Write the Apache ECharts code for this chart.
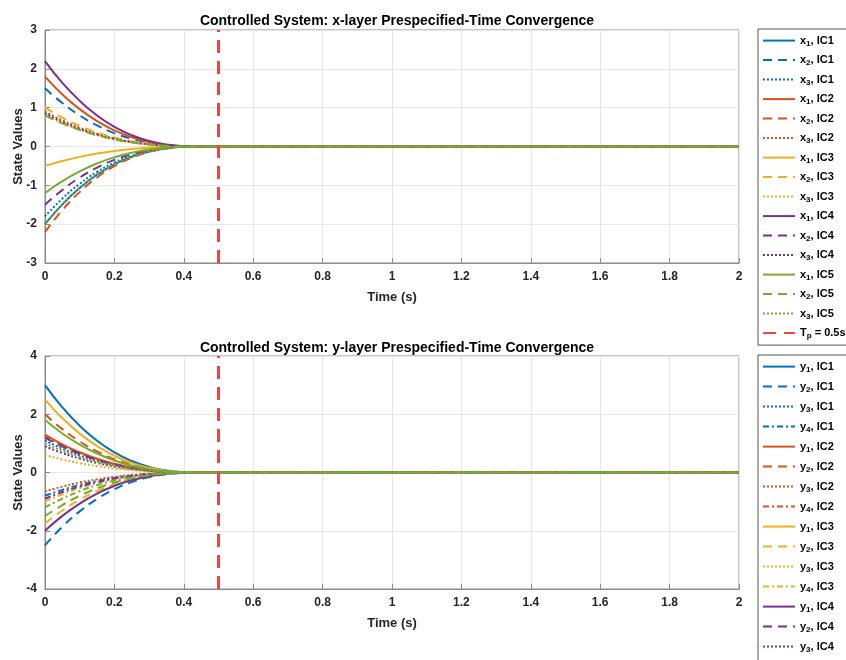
<!DOCTYPE html>
<html>
<head>
<meta charset="utf-8">
<script src="https://cdn.jsdelivr.net/npm/echarts@6/dist/echarts.min.js"></script>
<style>
  html, body { margin: 0; padding: 0; background: #fff; }
  #chart { width: 846px; height: 660px; }
</style>
</head>
<body>
<div id="chart"></div>
<script>
// Sample times (s); the trajectories stay at zero after 0.45 s
const time = [0, 0.05, 0.1, 0.15, 0.2, 0.25, 0.3, 0.35, 0.4, 0.45, 2];

const xTicks = [-3, -2, -1, 0, 1, 2, 3];
const yTicks = [-4, -2, 0, 2, 4];
const timeTicks = [0, 0.2, 0.4, 0.6, 0.8, 1, 1.2, 1.4, 1.6, 1.8, 2];
const settlingTime = 0.5;

// x-layer states for each initial condition
const x1_IC1 = [-2.0, -1.49, -1.07, -0.726, -0.46, -0.264, -0.128, -0.046, -0.008, 0, 0];
const x2_IC1 = [1.5, 1.118, 0.801, 0.545, 0.345, 0.198, 0.096, 0.035, 0.006, 0, 0];
const x3_IC1 = [-1.8, -1.341, -0.961, -0.653, -0.414, -0.238, -0.115, -0.041, -0.007, 0, 0];
const x1_IC2 = [1.8, 1.341, 0.961, 0.653, 0.414, 0.238, 0.115, 0.041, 0.007, 0, 0];
const x2_IC2 = [-2.2, -1.639, -1.175, -0.799, -0.506, -0.29, -0.141, -0.051, -0.009, 0, 0];
const x3_IC2 = [0.9, 0.671, 0.481, 0.327, 0.207, 0.119, 0.058, 0.021, 0.004, 0, 0];
const x1_IC3 = [-0.5, -0.373, -0.267, -0.182, -0.115, -0.066, -0.032, -0.012, -0.002, 0, 0];
const x2_IC3 = [1.0, 0.745, 0.534, 0.363, 0.23, 0.132, 0.064, 0.023, 0.004, 0, 0];
const x3_IC3 = [0.8, 0.596, 0.427, 0.29, 0.184, 0.106, 0.051, 0.018, 0.003, 0, 0];
const x1_IC4 = [2.2, 1.639, 1.175, 0.799, 0.506, 0.29, 0.141, 0.051, 0.009, 0, 0];
const x2_IC4 = [-1.5, -1.118, -0.801, -0.545, -0.345, -0.198, -0.096, -0.035, -0.006, 0, 0];
const x3_IC4 = [0.85, 0.633, 0.454, 0.309, 0.196, 0.112, 0.054, 0.02, 0.003, 0, 0];
const x1_IC5 = [-1.2, -0.894, -0.641, -0.436, -0.276, -0.158, -0.077, -0.028, -0.005, 0, 0];
const x2_IC5 = [0.8, 0.596, 0.427, 0.29, 0.184, 0.106, 0.051, 0.018, 0.003, 0, 0];
const x3_IC5 = [-2.0, -1.49, -1.068, -0.726, -0.46, -0.264, -0.128, -0.046, -0.008, 0, 0];

// y-layer states for each initial condition
const y1_IC1 = [3.0, 2.235, 1.602, 1.089, 0.69, 0.396, 0.192, 0.069, 0.012, 0, 0];
const y2_IC1 = [-2.5, -1.863, -1.335, -0.908, -0.575, -0.33, -0.16, -0.058, -0.01, 0, 0];
const y3_IC1 = [1.1, 0.82, 0.587, 0.399, 0.253, 0.145, 0.07, 0.025, 0.004, 0, 0];
const y4_IC1 = [-0.8, -0.596, -0.427, -0.29, -0.184, -0.106, -0.051, -0.018, -0.003, 0, 0];
const y1_IC2 = [1.3, 0.969, 0.694, 0.472, 0.299, 0.172, 0.083, 0.03, 0.005, 0, 0];
const y2_IC2 = [2.0, 1.49, 1.068, 0.726, 0.46, 0.264, 0.128, 0.046, 0.008, 0, 0];
const y3_IC2 = [-0.65, -0.484, -0.347, -0.236, -0.15, -0.086, -0.042, -0.015, -0.003, 0, 0];
const y4_IC2 = [1.25, 0.931, 0.668, 0.454, 0.288, 0.165, 0.08, 0.029, 0.005, 0, 0];
const y1_IC3 = [2.5, 1.863, 1.335, 0.908, 0.575, 0.33, 0.16, 0.058, 0.01, 0, 0];
const y2_IC3 = [-1.75, -1.304, -0.935, -0.635, -0.403, -0.231, -0.112, -0.04, -0.007, 0, 0];
const y3_IC3 = [0.6, 0.447, 0.32, 0.218, 0.138, 0.079, 0.038, 0.014, 0.002, 0, 0];
const y4_IC3 = [-1.0, -0.745, -0.534, -0.363, -0.23, -0.132, -0.064, -0.023, -0.004, 0, 0];
const y1_IC4 = [-2.0, -1.49, -1.068, -0.726, -0.46, -0.264, -0.128, -0.046, -0.008, 0, 0];
const y2_IC4 = [1.2, 0.894, 0.641, 0.436, 0.276, 0.158, 0.077, 0.028, 0.005, 0, 0];
const y3_IC4 = [0.9, 0.671, 0.481, 0.327, 0.207, 0.119, 0.058, 0.021, 0.004, 0, 0];
const y4_IC4 = [-0.9, -0.671, -0.481, -0.327, -0.207, -0.119, -0.058, -0.021, -0.004, 0, 0];
const y1_IC5 = [1.8, 1.341, 0.961, 0.653, 0.414, 0.238, 0.115, 0.041, 0.007, 0, 0];
const y2_IC5 = [-1.5, -1.118, -0.801, -0.545, -0.345, -0.198, -0.096, -0.035, -0.006, 0, 0];
const y3_IC5 = [1.0, 0.745, 0.534, 0.363, 0.23, 0.132, 0.064, 0.023, 0.004, 0, 0];
const y4_IC5 = [-1.2, -0.894, -0.641, -0.436, -0.276, -0.158, -0.077, -0.028, -0.005, 0, 0];

const xStates = [
  [x1_IC1, x2_IC1, x3_IC1],
  [x1_IC2, x2_IC2, x3_IC2],
  [x1_IC3, x2_IC3, x3_IC3],
  [x1_IC4, x2_IC4, x3_IC4],
  [x1_IC5, x2_IC5, x3_IC5]
];
const yStates = [
  [y1_IC1, y2_IC1, y3_IC1, y4_IC1],
  [y1_IC2, y2_IC2, y3_IC2, y4_IC2],
  [y1_IC3, y2_IC3, y3_IC3, y4_IC3],
  [y1_IC4, y2_IC4, y3_IC4, y4_IC4],
  [y1_IC5, y2_IC5, y3_IC5, y4_IC5]
];

const icColors = ['#0072BD', '#D95319', '#EDB120', '#7E2F8E', '#77AC30'];
const dashPatterns = ['solid', [9, 6], [2, 2], [6, 3, 2, 3]];
const tpColor = '#EE4444';
const font = 'Liberation Sans, Arial, sans-serif';
const textColor = '#262626';
const axisColor = '#8a8a8a';

function pairs(vals) {
  return time.map((t, i) => [t, vals[i]]);
}

function stateSeries(prefix, states, axisIndex) {
  const out = [];
  states.forEach((comps, ic) => {
    comps.forEach((vals, k) => {
      out.push({
        name: prefix + '_' + (k + 1) + ', IC' + (ic + 1),
        type: 'line',
        xAxisIndex: axisIndex,
        yAxisIndex: axisIndex,
        data: pairs(vals),
        showSymbol: false,
        symbol: 'none',
        smooth: 0.5,
        lineStyle: { color: icColors[ic], width: 2, type: dashPatterns[k] },
        itemStyle: { color: icColors[ic] },
        z: 2
      });
    });
  });
  return out;
}

function tpSeries(name, axisIndex, lo, hi) {
  return {
    name: name,
    type: 'line',
    xAxisIndex: axisIndex,
    yAxisIndex: axisIndex,
    data: [[settlingTime, lo], [settlingTime, hi]],
    showSymbol: false,
    symbol: 'none',
    lineStyle: { color: tpColor, width: 3, type: [13, 8] },
    itemStyle: { color: tpColor },
    z: 3
  };
}

const xSeries = stateSeries('x', xStates, 0);
const ySeries = stateSeries('y', yStates, 1);
const series = xSeries.concat([tpSeries('T_p = 0.5s', 0, xTicks[0], xTicks[xTicks.length - 1])])
  .concat(ySeries)
  .concat([tpSeries('T_p = 0.5s ', 1, yTicks[0], yTicks[yTicks.length - 1])]);

function legendLabel(name) {
  const m = name.trim().match(/^(\w)_(\w)(.*)$/);
  return '{b|' + m[1] + '}{s|' + m[2] + '}{b|' + m[3] + '}';
}

const legendRich = {
  b: { fontFamily: font, fontWeight: 'bold', fontSize: 11, color: '#000', lineHeight: 14 },
  s: { fontFamily: font, fontWeight: 'bold', fontSize: 8, color: '#000', lineHeight: 5, verticalAlign: 'bottom' }
};

function legend(names, top, gap) {
  return {
    orient: 'vertical',
    left: 758,
    top: top,
    height: 640,
    width: 120,
    padding: [6, 6, 5, 4],
    itemGap: gap,
    itemWidth: 32,
    itemHeight: 14,
    backgroundColor: '#fff',
    borderColor: '#555',
    borderWidth: 1,
    selectedMode: false,
    itemStyle: { color: 'rgba(0,0,0,0)', borderWidth: 0, opacity: 0 },
    data: names,
    formatter: legendLabel,
    textStyle: { rich: legendRich }
  };
}

function axisPair(gridIndex, ticks, step) {
  const xa = {
    type: 'value',
    gridIndex: gridIndex,
    min: timeTicks[0],
    max: timeTicks[timeTicks.length - 1],
    interval: 0.2,
    name: 'Time (s)',
    nameLocation: 'middle',
    nameGap: 28,
    nameMoveOverlap: false,
    nameTextStyle: { fontFamily: font, fontWeight: 'bold', fontSize: 13, color: textColor },
    axisLine: { onZero: false, lineStyle: { color: axisColor, width: 1 } },
    axisTick: { inside: true, length: 5, lineStyle: { color: axisColor } },
    axisLabel: { fontFamily: font, fontWeight: 'bold', fontSize: 12, color: textColor, margin: 8 },
    splitLine: { show: true, lineStyle: { color: '#e6e6e6', width: 1 } }
  };
  const ya = {
    type: 'value',
    gridIndex: gridIndex,
    min: ticks[0],
    max: ticks[ticks.length - 1],
    interval: step,
    name: 'State Values',
    nameLocation: 'middle',
    nameGap: 20,
    nameMoveOverlap: false,
    nameTextStyle: { fontFamily: font, fontWeight: 'bold', fontSize: 13, color: textColor },
    axisLine: { show: true, onZero: false, lineStyle: { color: axisColor, width: 1 } },
    axisTick: { show: true, inside: true, length: 5, lineStyle: { color: axisColor } },
    axisLabel: { fontFamily: font, fontWeight: 'bold', fontSize: 12, color: textColor, margin: 8 },
    splitLine: { show: true, lineStyle: { color: '#e6e6e6', width: 1 } }
  };
  return [xa, ya];
}

const [xa0, ya0] = axisPair(0, xTicks, 1);
const [xa1, ya1] = axisPair(1, yTicks, 2);

const titleStyle = { fontFamily: font, fontWeight: 'bold', fontSize: 14, color: '#000' };

const option = {
  animation: false,
  backgroundColor: '#fff',
  title: [
    { text: 'Controlled System: x-layer Prespecified-Time Convergence', left: 392, top: 9, textAlign: 'center', textStyle: titleStyle },
    { text: 'Controlled System: y-layer Prespecified-Time Convergence', left: 392, top: 336, textAlign: 'center', textStyle: titleStyle }
  ],
  legend: [
    legend(xSeries.map(s => s.name).concat(['T_p = 0.5s']), 29, 6.9),
    legend(ySeries.map(s => s.name).concat(['T_p = 0.5s ']), 355, 7.4)
  ],
  grid: [
    { left: 45, right: 107, top: 30, height: 233, outerBoundsMode: 'none', containLabel: false, show: true, borderColor: axisColor, borderWidth: 1, backgroundColor: 'transparent' },
    { left: 45, right: 107, top: 356, height: 233, outerBoundsMode: 'none', containLabel: false, show: true, borderColor: axisColor, borderWidth: 1, backgroundColor: 'transparent' }
  ],
  xAxis: [xa0, xa1],
  yAxis: [ya0, ya1],
  series: series
};

const chart = echarts.init(document.getElementById('chart'), null, { renderer: 'canvas' });
chart.setOption(option);
</script>
</body>
</html>
